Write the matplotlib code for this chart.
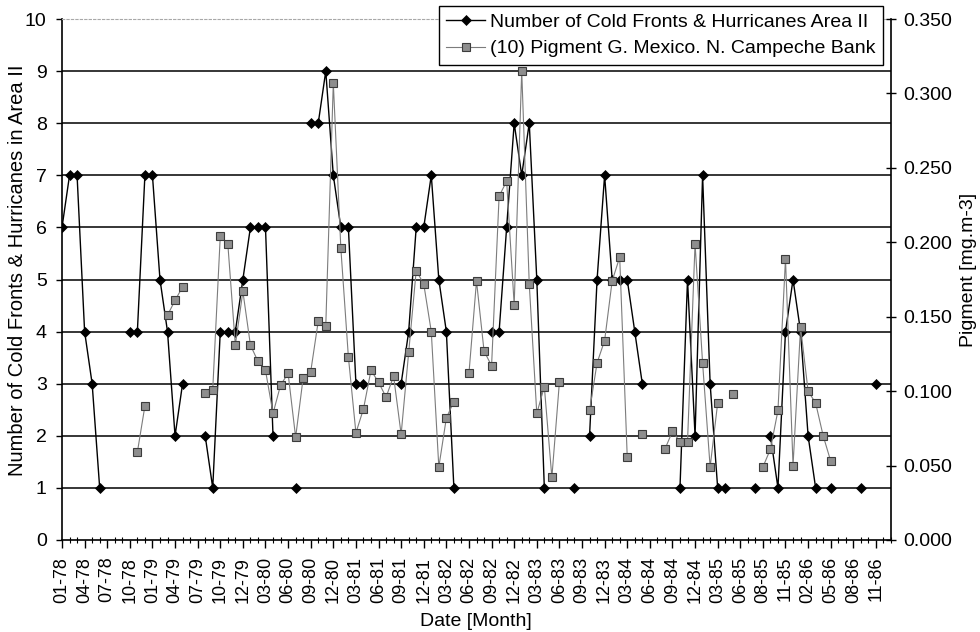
import numpy as np
import matplotlib
matplotlib.use("Agg")
import matplotlib.pyplot as plt
from matplotlib.lines import Line2D

plt.rcParams['font.family'] = ['Liberation Sans', 'DejaVu Sans']

N = None

# Monthly categories 01-78 onward; Nov-79 and Jul-85 each carry a second record
month_names = [f"{m:02d}-{y}" for y in range(78, 88) for m in range(1, 13)]
categories = (month_names[0:23] + [month_names[22]] + month_names[23:91]
              + [month_names[90]] + month_names[91:])[:111]

# Number of cold fronts & hurricanes per month, Area II
fronts = [
    6, 7, 7, 4, 3, 1, N, N, N, 4, 4, 7,
    7, 5, 4, 2, 3, N, N, 2, 1, 4, 4, 4,
    5, 6, 6, 6, 2, N, N, 1, N, 8, 8, 9,
    7, 6, 6, 3, 3, N, N, N, N, 3, 4, 6,
    6, 7, 5, 4, 1, N, N, N, N, 4, 4, 6,
    8, 7, 8, 5, 1, N, N, N, 1, N, 2, 5,
    7, 5, 5, 5, 4, 3, N, N, N, N, 1, 5,
    2, 7, 3, 1, 1, N, N, N, 1, N, 2, 1,
    4, 5, 4, 2, 1, N, 1, N, N, N, 1, N,
    3, N, N,
]

# (10) Pigment, G. Mexico, N. Campeche Bank [mg m-3]
pigment = [
    N, N, N, N, N, N, N, N, N, N, 0.059, 0.090,
    N, N, 0.151, 0.161, 0.170, N, N, 0.099, 0.101, 0.204, 0.199, 0.131,
    0.167, 0.131, 0.120, 0.114, 0.085, 0.104, 0.112, 0.069, 0.109, 0.113, 0.147, 0.144,
    0.307, 0.196, 0.123, 0.072, 0.088, 0.114, 0.106, 0.096, 0.110, 0.071, 0.126, 0.181,
    0.172, 0.140, 0.049, 0.082, 0.093, N, 0.112, 0.174, 0.127, 0.117, 0.231, 0.241,
    0.158, 0.315, 0.172, 0.085, 0.103, 0.042, 0.106, N, N, N, 0.087, 0.119,
    0.134, 0.174, 0.190, 0.056, N, 0.071, N, N, 0.061, 0.073, 0.066, 0.066,
    0.199, 0.119, 0.049, 0.092, N, 0.098, N, N, N, 0.049, 0.061, 0.087,
    0.189, 0.050, 0.143, 0.100, 0.092, 0.070, 0.053, N, N, N, N, N,
    N, N, N,
]

left_ticks = list(range(0, 11))
right_ticks = [0.0, 0.05, 0.10, 0.15, 0.20, 0.25, 0.30, 0.35]

series_labels = ["Number of Cold Fronts & Hurricanes Area II",
                 "(10) Pigment G. Mexico. N. Campeche Bank"]

fr = np.array([np.nan if v is None else v for v in fronts], dtype=float)
pg = np.array([np.nan if v is None else v for v in pigment], dtype=float)
x = np.arange(len(categories))

FS = 14
W, H = 980, 632
fig = plt.figure(figsize=(W / 100, H / 100), dpi=100)
ax = fig.add_axes([62 / W, 1 - 540 / H, (891 - 62) / W, (540 - 19) / H])
ax.set_xlim(0, len(categories) - 1)
ax.set_ylim(0, 10)

for v in left_ticks[1:-1]:
    ax.axhline(v, color='black', lw=1.1, zorder=1)

diamond_kw = dict(color='black', lw=1.0, marker='D', ms=4.6,
                  mfc='black', mec='black', mew=0.5)
square_kw = dict(color='#7c7c7c', lw=0.8, marker='s', ms=5.4,
                 mfc='#8e8e8e', mec='#3c3c3c', mew=0.8)

ax.plot(x, fr, zorder=3, **diamond_kw)

ax2 = ax.twinx()
ax2.set_ylim(0, 0.35)
ax2.plot(x, pg, zorder=4, **square_kw)

# spines
for a in (ax, ax2):
    a.spines['top'].set_color('#a8a8a8')
    a.spines['top'].set_linestyle((0, (2, 2)))
    a.spines['top'].set_linewidth(0.8)
ax.spines['right'].set_visible(False)
ax2.spines['left'].set_visible(False)
ax2.spines['bottom'].set_visible(False)
ax2.spines['top'].set_visible(False)
for s in ('left', 'bottom'):
    ax.spines[s].set_color('black')
    ax.spines[s].set_linewidth(1.2)
ax2.spines['right'].set_color('black')
ax2.spines['right'].set_linewidth(1.2)

# ticks
ax.set_yticks(left_ticks)
ax.tick_params(axis='y', direction='out', length=4, width=1.0, pad=7,
               labelsize=FS, colors='black')
ax.set_xticks(x[:109:3])
ax.set_xticklabels(categories[:109:3], rotation=90)
ax.set_xticks(x, minor=True)
ax.tick_params(axis='x', which='major', direction='out', length=6, width=1.0,
               pad=6, labelsize=13)
ax.tick_params(axis='x', which='minor', direction='inout', length=4, width=0.8)

ax2.set_yticks(right_ticks)
ax2.set_yticklabels([f"{t:.3f}" for t in right_ticks])
ax2.tick_params(axis='y', direction='inout', length=7, width=1.0, pad=5,
                labelsize=FS)

fig.text(18 / W, 1 - 270 / H, "Number of Cold Fronts & Hurricanes in Area II",
         rotation=90, ha='center', va='center', fontsize=FS + 0.5)
fig.text(968 / W, 1 - 270 / H, "Pigment [mg.m-3]",
         rotation=90, ha='center', va='center', fontsize=FS)
fig.text(476 / W, 1 - 621 / H, "Date [Month]", ha='center', va='center',
         fontsize=FS)

handles = [Line2D([], [], **diamond_kw), Line2D([], [], **square_kw)]
leg = fig.legend(handles, series_labels, loc='upper right',
                 bbox_to_anchor=(883 / W, 1 - 6 / H), frameon=True,
                 fancybox=False, edgecolor='black', framealpha=1,
                 fontsize=FS, handlelength=2.0, handletextpad=0.25,
                 borderpad=0.38, labelspacing=0.45, borderaxespad=0,
                 numpoints=1)
leg.get_frame().set_linewidth(1.0)
leg.set_zorder(10)

fig.savefig("out.png", dpi=100)
